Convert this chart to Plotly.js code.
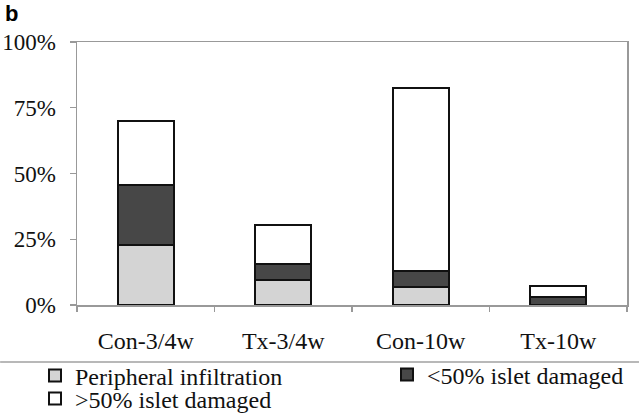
<!DOCTYPE html>
<html>
<head>
<meta charset="utf-8">
<script src="https://cdn.plot.ly/plotly-3.0.1.min.js"></script>
<style>html,body{margin:0;padding:0;background:#fff;}#chart{width:640px;height:415px;}</style>
</head>
<body>
<div id="chart"></div>
<script>
const categories = ["Con-3/4w", "Tx-3/4w", "Con-10w", "Tx-10w"];
const peripheral = [23, 9.5, 7, 0];
const lessThan50 = [22.5, 6, 6, 3.2];
const moreThan50 = [24.5, 15, 69.7, 4.2];
const yTickVals = [0, 25, 50, 75, 100];
const yTickText = ["0%", "25%", "50%", "75%", "100%"];

const serif = "Liberation Serif, Times New Roman, serif";
const outline = {color: "#111", width: 2};

const traces = [
  {type: "bar", name: "Peripheral infiltration", x: categories, y: peripheral,
   marker: {color: "#d4d4d4", line: outline}, legend: "legend"},
  {type: "bar", name: "&lt;50% islet damaged", x: categories, y: lessThan50,
   marker: {color: "#474747", line: outline}, legend: "legend2"},
  {type: "bar", name: "&gt;50% islet damaged", x: categories, y: moreThan50,
   marker: {color: "#ffffff", line: outline}, legend: "legend3"}
];

const legendBase = {
  xref: "container", yref: "container", xanchor: "left", yanchor: "middle",
  orientation: "v", font: {family: serif, size: 24, color: "#111"},
  bgcolor: "rgba(0,0,0,0)", borderwidth: 0, itemclick: false, itemdoubleclick: false
};

const layout = {
  width: 640, height: 415,
  margin: {l: 77, r: 13, t: 42, b: 110, autoexpand: false},
  paper_bgcolor: "#fff", plot_bgcolor: "#fff",
  barmode: "stack", bargap: 0.594,
  showlegend: true,
  font: {family: serif, color: "#111"},
  xaxis: {
    type: "category", showgrid: false, zeroline: false, automargin: false,
    showline: true, linecolor: "#999", linewidth: 1.5, mirror: true,
    ticks: "outside", tickson: "boundaries", ticklen: 5, tickcolor: "#999", tickwidth: 1.2,
    tickangle: 0,
    tickfont: {family: serif, size: 24, color: "#111"}, ticklabelstandoff: 14
  },
  yaxis: {
    range: [0, 100], tickvals: yTickVals, ticktext: yTickText, automargin: false,
    showgrid: false, zeroline: false,
    showline: true, linecolor: "#999", linewidth: 1.5, mirror: true,
    ticks: "outside", ticklen: 6, tickcolor: "#999", tickwidth: 1.2,
    tickfont: {family: serif, size: 23, color: "#111"}, ticklabelstandoff: 9
  },
  legend: Object.assign({}, legendBase, {x: 35/640, y: 1 - 376/415}),
  legend2: Object.assign({}, legendBase, {x: 387/640, y: 1 - 375/415}),
  legend3: Object.assign({}, legendBase, {x: 35/640, y: 1 - 399/415}),
  shapes: [{
    type: "line", xref: "paper", yref: "paper",
    x0: -77/551, x1: 563/551, y0: -57/263, y1: -57/263,
    line: {color: "#a0a0a0", width: 1.5}
  }],
  annotations: [{
    text: "<b>b</b>", xref: "paper", yref: "paper",
    x: -74/551, y: 1 + 28/263, xanchor: "left", yanchor: "middle",
    showarrow: false, font: {family: "Liberation Sans, Arial, sans-serif", size: 22, color: "#000"}
  }]
};

Plotly.newPlot("chart", traces, layout, {displayModeBar: false, staticPlot: true});
</script>
</body>
</html>
